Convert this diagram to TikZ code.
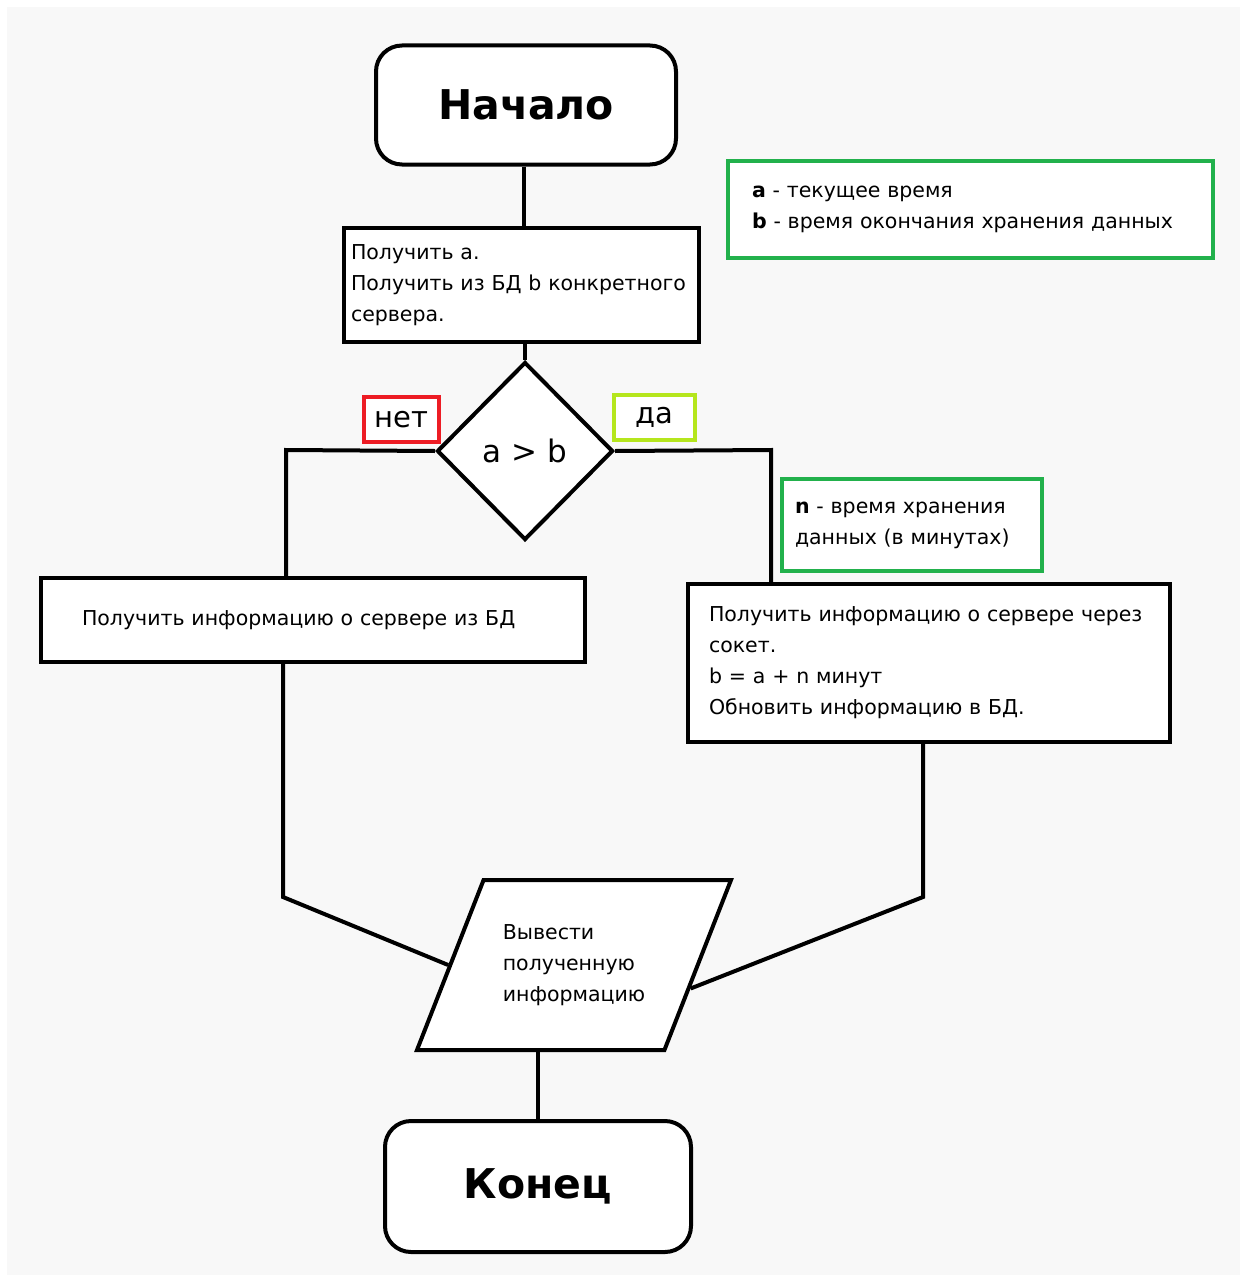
\documentclass[tikz,border=0pt]{standalone}
\usepackage{fontspec}
\setmainfont{DejaVu Sans}
\usetikzlibrary{shapes.geometric}
\usetikzlibrary{calc}
\definecolor{notegreen}{HTML}{22B14C}
\definecolor{nored}{HTML}{ED1C24}
\definecolor{yeslime}{HTML}{B5E61D}
\definecolor{paper}{HTML}{F8F8F8}
\newcommand{\txt}{\fontsize{20.5}{31}\selectfont}

\begin{document}
\begin{tikzpicture}[x=1pt,y=-1pt,line width=4pt
  ,term/.style={draw,fill=white,rounded corners=26pt,minimum width=300pt,minimum height=119pt,font=\bfseries\fontsize{41}{50}\selectfont}
  ,proc/.style={draw,fill=white,align=left,font=\txt,inner ysep=0pt}
  ,note/.style={draw=notegreen,fill=white,align=left,font=\txt,inner ysep=0pt}
  ,cond/.style={draw,fill=white,diamond,minimum width=176pt,minimum height=178pt,inner sep=0pt,font=\fontsize{31}{36}\selectfont}
  ,io/.style={draw,fill=white,trapezium,trapezium left angle=52,trapezium right angle=128,trapezium stretches body=true,minimum width=314pt,minimum height=170pt,inner sep=2pt,align=left,font=\txt}
  ,tag/.style={draw,fill=white,inner sep=0pt,minimum height=45pt,font=\fontsize{29}{30}\selectfont}
  ]
\useasboundingbox (0,0) rectangle (1243,1279);
\fill[paper] (7,7) rectangle (1240,1275);

% blocks
\node[term] (start) at (526,105) {Начало};
\node[proc,text width=341pt,inner xsep=7pt,minimum height=114pt] (get) at (521.5,285)
  {Получить a.\\Получить из БД b конкретного\\сервера.};
\node[cond] (cmp) at (525,451) {a > b};
\node[tag,draw=nored,minimum width=75pt] (no) at (401.5,419.5) {нет};
\node[tag,draw=yeslime,minimum width=81pt] (yes) at (654.5,417.5) {да};
\node[proc,text width=462pt,inner xsep=41pt,minimum height=84pt] (getdb) at (313,620)
  {Получить информацию о сервере из БД};
\node[proc,text width=440pt,inner xsep=21pt,minimum height=158pt] (getsock) at (929,663)
  {Получить информацию о сервере через\\сокет.\\b = a + n минут\\Обновить информацию в БД.};
\node[io] (out) at (574,965) {Вывести\\полученную\\информацию};
\node[term,minimum width=306pt,minimum height=131pt] (stop) at (538,1186.5) {Конец};

% notes
\node[note,text width=437pt,inner xsep=24pt,minimum height=97pt] (legend) at (970.5,209.5)
  {\textbf{a} - текущее время\\\textbf{b} - время окончания хранения данных};
\node[note,text width=234pt,inner xsep=13pt,minimum height=92pt] (nnote) at (912,525)
  {\textbf{n} - время хранения\\данных (в минутах)};

% connectors
\coordinate (nobend) at (286,450);
\coordinate (yesbend) at (771,450);
\coordinate (nojoin) at (283,897);
\coordinate (yesjoin) at (923,897);
\draw (start.south -| 524,0) -- (get.north -| 524,0);
\draw (get.south -| cmp) -- (cmp.north);
\draw (cmp.west) -- (nobend) -- (nobend |- getdb.north);
\draw (cmp.east) -- (yesbend) -- (yesbend |- getsock.north);
\draw (nojoin |- getdb.south) -- (nojoin) -- (out.west);
\draw (yesjoin |- getsock.south) -- (yesjoin) -- ($(out.bottom right corner)!0.365!(out.top right corner)$);
\draw (stop.north |- out.south) -- (stop.north);
\end{tikzpicture}
\end{document}
